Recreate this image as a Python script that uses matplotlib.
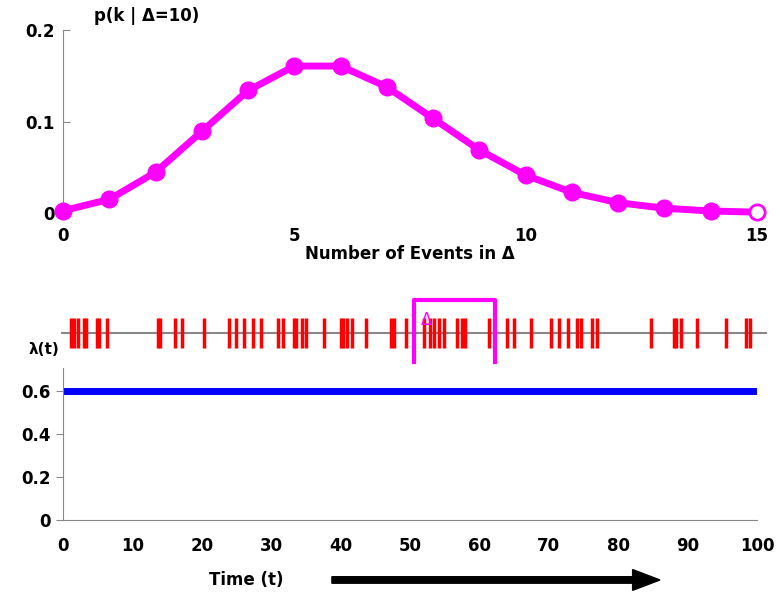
import matplotlib.pyplot as plt
import numpy as np

# probability of k events in a window of length 10
k_values = list(range(16))
p_k = [0.0025, 0.0149, 0.0446, 0.0892, 0.1339, 0.1606, 0.1606, 0.1377,
       0.1033, 0.0688, 0.0413, 0.0225, 0.0113, 0.0052, 0.0022, 0.0009]

# event times of the spike train
spike_times = [1.22, 1.54, 2.20, 2.98, 3.36, 4.86, 5.14, 6.34, 13.72, 13.95,
               16.18, 17.10, 20.35, 23.85, 24.88, 26.11, 27.33, 28.49, 30.94, 31.73,
               33.21, 33.50, 34.37, 35.01, 37.65, 40.06, 40.32, 40.99, 41.64, 43.59,
               47.19, 47.69, 49.47, 51.97, 52.81, 53.46, 54.18, 54.83, 56.73, 57.56,
               57.97, 61.34, 64.02, 65.03, 67.39, 70.27, 71.51, 72.72, 74.06, 74.64,
               76.27, 76.95, 84.77, 88.04, 88.36, 89.01, 91.35, 95.56, 98.41, 98.92]

# constant rate lambda(t)
rate_t = [0, 100]
rate = [0.6, 0.6]

window = [50.6, 62.2]
x_ticks = list(range(0, 101, 10))

plt.rcParams['font.family'] = ['DejaVu Sans']
plt.rcParams['font.weight'] = 'bold'
MAG = '#ff00ff'
GRAY = '#888888'

fig = plt.figure(figsize=(7.81, 5.93), dpi=100)

# --- top: distribution of counts
ax1 = fig.add_axes([0.0807, 0.6408, 0.8886, 0.3086])
ax1.plot(k_values, p_k, color=MAG, lw=5, marker='o', ms=12, clip_on=False, zorder=3)
ax1.plot(k_values[-1], p_k[-1], 'o', ms=8, color='white', clip_on=False, zorder=4)
ax1.set_xlim(0, 15)
ax1.set_ylim(0, 0.2)
ax1.set_xticks([0, 5, 10, 15])
ax1.set_xticklabels(['0', '5', '10', '15'])
ax1.set_yticks([0, 0.1, 0.2])
ax1.set_yticklabels(['0', '0.1', '0.2'])
for s in ['top', 'right', 'bottom']:
    ax1.spines[s].set_visible(False)
ax1.spines['left'].set_color(GRAY)
ax1.tick_params(axis='x', length=0, pad=10, labelsize=12)
ax1.tick_params(axis='y', direction='in', length=5, color=GRAY, labelsize=12, pad=6)
ax1.set_xlabel('Number of Events in Δ', fontsize=12, fontweight='bold', labelpad=0)
ax1.text(0.045, 1.03, 'p(k | Δ=10)', transform=ax1.transAxes, fontsize=12,
         fontweight='bold', va='bottom', ha='left')

# --- middle: spike raster
ax2 = fig.add_axes([0.0807, 0.3845, 0.8886, 0.1180])
ax2.set_xlim(0, 100)
ax2.set_ylim(0, 1)
ax2.axis('off')
ax2.plot([-0.2, 101.3], [0.457, 0.457], color=GRAY, lw=1.5, clip_on=False, zorder=1)
ax2.vlines(spike_times, 0.243, 0.671, color='red', lw=2.5, zorder=2)
ax2.plot([window[0], window[0], window[1], window[1]], [0.04, 0.93, 0.93, 0.04],
         color=MAG, lw=3, zorder=3, clip_on=False)
ax2.text(52.4, 0.64, 'Δ', color=MAG, fontsize=12, fontweight='normal',
         ha='center', va='center', zorder=4)

# --- bottom: rate function
ax3 = fig.add_axes([0.0807, 0.1231, 0.8886, 0.2563])
ax3.plot(rate_t, rate, color='#0000ff', lw=5, solid_capstyle='butt')
ax3.set_xlim(0, 100)
ax3.set_ylim(0, 0.707)
ax3.set_xticks(x_ticks)
ax3.set_yticks([0, 0.2, 0.4, 0.6])
ax3.set_yticklabels(['0', '0.2', '0.4', '0.6'])
for s in ['top', 'right']:
    ax3.spines[s].set_visible(False)
ax3.spines['left'].set_color(GRAY)
ax3.spines['bottom'].set_color(GRAY)
ax3.tick_params(axis='x', length=0, pad=12, labelsize=12)
ax3.tick_params(axis='y', direction='out', length=5, color=GRAY, labelsize=12, pad=4)
ax3.text(-0.027, 1.07, 'λ(t)', transform=ax3.transAxes, fontsize=11,
         fontweight='bold', ha='center', va='bottom')

# time label and arrow
fig.text(0.268, 0.022, 'Time (t)', fontsize=12, fontweight='bold', ha='left', va='center')
fig.patches.append(plt.matplotlib.patches.FancyArrow(
    0.425, 0.022, 0.42, 0, width=0.011, head_width=0.035, head_length=0.035,
    length_includes_head=True, color='black', transform=fig.transFigure, figure=fig))

plt.savefig('out.png', dpi=100)
